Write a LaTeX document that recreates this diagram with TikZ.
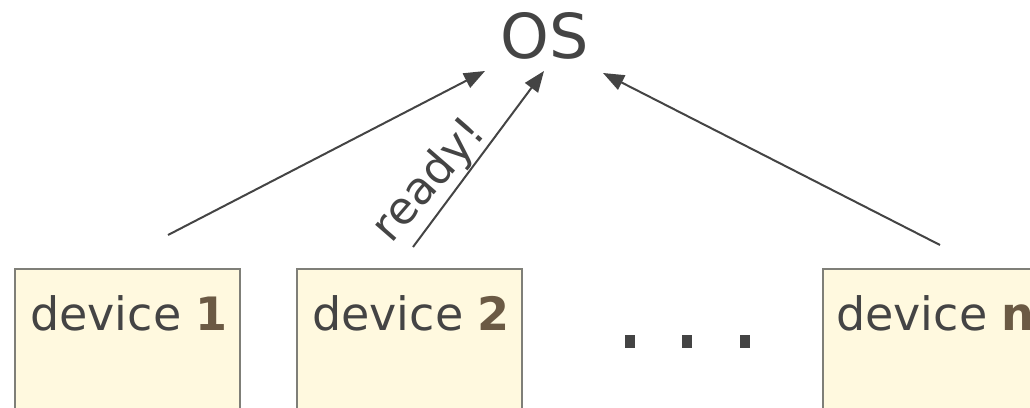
\documentclass[tikz,border=0pt]{standalone}
\usepackage{fontspec}
\setmainfont{DejaVu Sans}
\usetikzlibrary{arrows.meta}
\definecolor{boxfill}{HTML}{FFF9DF}
\definecolor{boxline}{HTML}{7F7F78}
\definecolor{ink}{HTML}{444444}
\definecolor{numink}{HTML}{6B5A44}
\tikzset{
  devbox/.style={draw=boxline, line width=2pt, fill=boxfill, anchor=north west,
    minimum width=225pt, minimum height=200pt, inner sep=0pt},
  devlabel/.style={anchor=base west, inner sep=0pt, text=ink,
    font=\fontsize{46pt}{50pt}\selectfont},
  msg/.style={draw=ink, line width=2pt, -{Triangle[length=21pt, width=16pt]}},
  dot/.style={fill=ink, draw=none, minimum width=10pt, minimum height=13pt, inner sep=0pt}
}
\newcommand{\num}[1]{\textcolor{numink}{\bfseries #1}}
\begin{document}
\begin{tikzpicture}[x=1pt, y=1pt]
  \useasboundingbox (0,0) rectangle (1030,-407);
  \clip (0,0) rectangle (1030,-407);

  % operating system
  \node[anchor=base west, inner sep=0pt, text=ink,
        font=\fontsize{62pt}{66pt}\selectfont] (os) at (500,-58) {OS};

  % devices
  \node[devbox] (dev1) at (14,-268) {};
  \node[devbox] (dev2) at (296,-268) {};
  \node[devbox] (devn) at (822,-268) {};
  \node[devlabel] (l1) at (30,-330) {device \num{1}};
  \node[devlabel] (l2) at (312,-330) {device \num{2}};
  \node[devlabel] (ln) at (836,-330) {device \num{n}};

  % ellipsis between the devices
  \node[dot] (d1) at (630,-341) {};
  \node[dot] (d2) at (687,-341) {};
  \node[dot] (d3) at (745,-341) {};

  % interrupt lines
  \coordinate (s1) at (168,-235);
  \coordinate (s2) at (413,-247);
  \coordinate (sn) at (940,-245);
  \coordinate (t1) at (485,-71);
  \coordinate (t2) at (544,-71);
  \coordinate (tn) at (603,-73);
  \draw[msg] (s1) -- (t1);
  \draw[msg] (s2) -- node[pos=0.28, rotate=49, anchor=south, inner sep=3pt, text=ink,
        font=\fontsize{45pt}{49pt}\selectfont] (rd) {ready!} (t2);
  \draw[msg] (sn) -- (tn);
\end{tikzpicture}
\end{document}
